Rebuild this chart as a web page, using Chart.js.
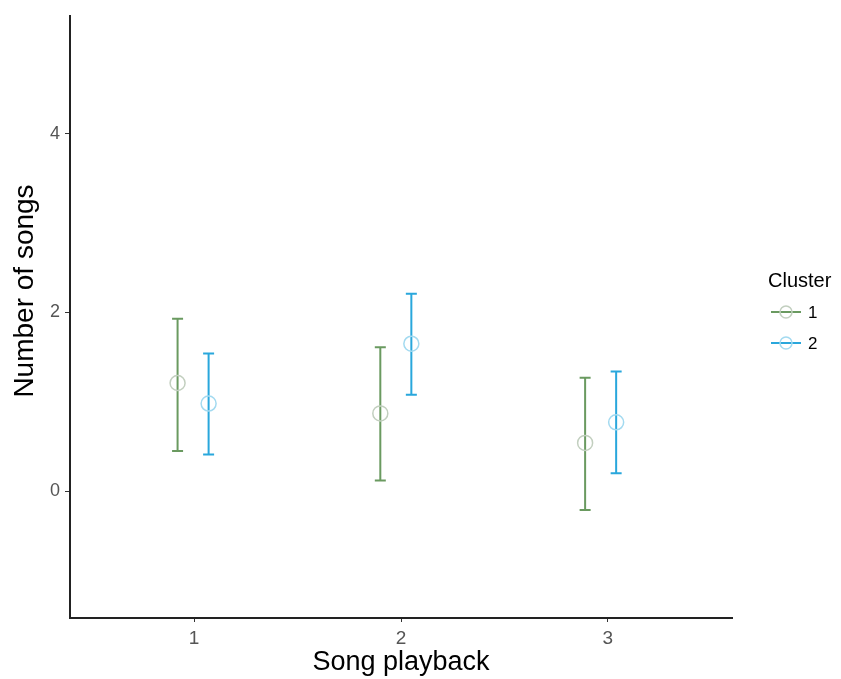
<!DOCTYPE html>
<html>
<head>
<meta charset="utf-8">
<script src="https://cdn.jsdelivr.net/npm/chart.js@4"></script>
<style>
  html,body{margin:0;padding:0;background:#fff;}
  #wrap{width:841px;height:679px;position:relative;}
</style>
</head>
<body>
<div id="wrap"><canvas id="c" width="841" height="679"></canvas></div>
<script>
// ---- data ----
const categories = [1, 2, 3];
const xTickValues = [1, 2, 3];
const yTickValues = [0, 2, 4];
const clusterNames = ['1', '2'];
const yTitle = 'Number of songs';
const xTitle = 'Song playback';
const legendTitle = 'Cluster';
// dodged x positions per cluster
const cluster1X = [0.92, 1.90, 2.89];
const cluster2X = [1.07, 2.05, 3.04];
// means
const cluster1Mean = [1.21, 0.87, 0.54];
const cluster2Mean = [0.98, 1.65, 0.77];
// error bar limits
const cluster1Lower = [0.45, 0.12, -0.21];
const cluster1Upper = [1.93, 1.61, 1.27];
const cluster2Lower = [0.41, 1.08, 0.20];
const cluster2Upper = [1.54, 2.21, 1.34];

const greenLine = '#6a9a60';
const greenPoint = '#c2cfbf';
const blueLine = '#29a7dc';
const bluePoint = '#a3daf0';
const FONT = '"Liberation Sans", Arial, sans-serif';

const errorBars = {
  id: 'errorBars',
  beforeDatasetsDraw(chart) {
    const {ctx, scales: {x, y}} = chart;
    const sets = [
      {xs: cluster1X, lo: cluster1Lower, hi: cluster1Upper, color: greenLine},
      {xs: cluster2X, lo: cluster2Lower, hi: cluster2Upper, color: blueLine}
    ];
    ctx.save();
    sets.forEach(s => {
      ctx.strokeStyle = s.color;
      ctx.lineWidth = 2;
      s.xs.forEach((xv, i) => {
        const px = x.getPixelForValue(xv);
        const py1 = y.getPixelForValue(s.lo[i]);
        const py2 = y.getPixelForValue(s.hi[i]);
        ctx.beginPath();
        ctx.moveTo(px, py1); ctx.lineTo(px, py2);
        ctx.moveTo(px - 5.5, py1); ctx.lineTo(px + 5.5, py1);
        ctx.moveTo(px - 5.5, py2); ctx.lineTo(px + 5.5, py2);
        ctx.stroke();
      });
    });
    ctx.restore();
  }
};

const customLegend = {
  id: 'customLegend',
  afterDraw(chart) {
    const ctx = chart.ctx;
    ctx.save();
    // y axis title (ggplot-style position)
    ctx.save();
    ctx.translate(33, 291);
    ctx.rotate(-Math.PI / 2);
    ctx.fillStyle = '#000';
    ctx.font = '28px ' + FONT;
    ctx.textAlign = 'center';
    ctx.textBaseline = 'alphabetic';
    ctx.fillText(yTitle, 0, 0);
    ctx.restore();

    ctx.fillStyle = '#000';
    ctx.font = '20px ' + FONT;
    ctx.textBaseline = 'alphabetic';
    ctx.textAlign = 'left';
    ctx.fillText(legendTitle, 768, 287);
    const items = [
      {label: clusterNames[0], line: greenLine, pt: greenPoint, y: 312},
      {label: clusterNames[1], line: blueLine, pt: bluePoint, y: 343}
    ];
    items.forEach(it => {
      ctx.strokeStyle = it.line;
      ctx.lineWidth = 2;
      ctx.beginPath();
      ctx.moveTo(771, it.y); ctx.lineTo(801, it.y);
      ctx.stroke();
      ctx.strokeStyle = it.pt;
      ctx.lineWidth = 1.5;
      ctx.beginPath();
      ctx.arc(786, it.y, 6, 0, Math.PI * 2);
      ctx.stroke();
      ctx.fillStyle = '#000';
      ctx.font = '17px ' + FONT;
      ctx.textBaseline = 'middle';
      ctx.fillText(it.label, 808, it.y + 1);
    });
    ctx.restore();
  }
};

new Chart(document.getElementById('c'), {
  type: 'scatter',
  data: {
    datasets: [
      {
        label: clusterNames[0],
        data: cluster1X.map((xv, i) => ({x: xv, y: cluster1Mean[i]})),
        pointStyle: 'circle', pointRadius: 7.5, pointHoverRadius: 7.5,
        borderColor: greenPoint, backgroundColor: 'rgba(0,0,0,0)', borderWidth: 1.5
      },
      {
        label: clusterNames[1],
        data: cluster2X.map((xv, i) => ({x: xv, y: cluster2Mean[i]})),
        pointStyle: 'circle', pointRadius: 7.5, pointHoverRadius: 7.5,
        borderColor: bluePoint, backgroundColor: 'rgba(0,0,0,0)', borderWidth: 1.5
      }
    ]
  },
  options: {
    responsive: false,
    animation: false,
    events: [],
    layout: {padding: {left: 0, top: 15, right: 109, bottom: 0}},
    plugins: {legend: {display: false}, tooltip: {enabled: false}},
    scales: {
      x: {
        type: 'linear', min: 0.4, max: 3.6,
        afterBuildTicks: s => { s.ticks = xTickValues.map(v => ({value: v})); },
        afterFit: s => { s.height = 61; },
        grid: {drawOnChartArea: false, drawTicks: true, tickLength: 4, tickColor: '#333', tickWidth: 1},
        border: {display: true, color: '#222', width: 2},
        ticks: {color: '#555', padding: 5, font: {size: 19, family: FONT}, maxRotation: 0},
        title: {display: true, text: xTitle, color: '#000', padding: {top: 0, bottom: 0}, font: {size: 27, family: FONT}}
      },
      y: {
        type: 'linear', min: -1.42, max: 5.32,
        afterBuildTicks: s => { s.ticks = yTickValues.map(v => ({value: v})); },
        afterFit: s => { s.width = 70; },
        grid: {drawOnChartArea: false, drawTicks: true, tickLength: 5, tickColor: '#333', tickWidth: 1},
        border: {display: true, color: '#222', width: 2},
        ticks: {color: '#555', padding: 5, font: {size: 18, family: FONT}},
        title: {display: false, text: yTitle}
      }
    }
  },
  plugins: [errorBars, customLegend]
});
</script>
</body>
</html>
